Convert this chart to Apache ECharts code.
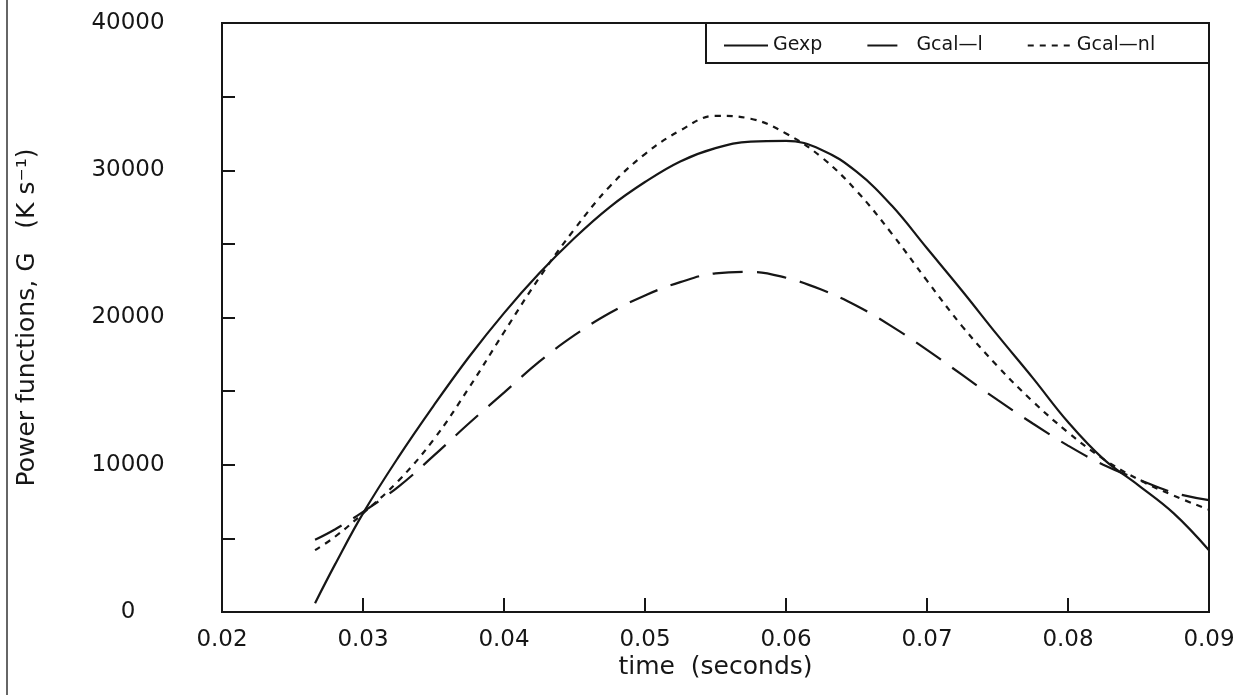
<!DOCTYPE html>
<html>
<head>
<meta charset="utf-8">
<script src="https://cdn.jsdelivr.net/npm/echarts@6/dist/echarts.min.js"></script>
<style>
html,body{margin:0;padding:0;background:#fff;}
#chart{width:1241px;height:695px;}
</style>
</head>
<body>
<div id="chart"></div>
<script>
// ---- data ----
const time = [0.0266, 0.028, 0.030, 0.0325, 0.035, 0.0375, 0.040, 0.0425, 0.045, 0.0475, 0.050, 0.0525, 0.055, 0.0575, 0.060, 0.0625, 0.065, 0.0675, 0.070, 0.0725, 0.075, 0.0775, 0.080, 0.0825, 0.085, 0.0875, 0.090];
const gExp   = [600, 3200, 6700, 10500, 14000, 17300, 20300, 23000, 25400, 27500, 29200, 30600, 31500, 31950, 32000, 31400, 29900, 27600, 24700, 21800, 18800, 15900, 12900, 10400, 8600, 6700, 4200];
const gCalL  = [4900, 5600, 6800, 8500, 10600, 12800, 14900, 17000, 18800, 20300, 21500, 22400, 23000, 23100, 22700, 21900, 20800, 19400, 17800, 16100, 14400, 12800, 11300, 10000, 9000, 8100, 7600];
const gCalNL = [4200, 5100, 6700, 8900, 11700, 15200, 19000, 22700, 26000, 28900, 31100, 32700, 33700, 33500, 32500, 30900, 28600, 25700, 22500, 19400, 16700, 14300, 12200, 10400, 9000, 7900, 6950];
const seriesNames = ['Gexp', 'Gcal\u2014l', 'Gcal\u2014nl'];
const xTickLabels = ['0.02', '0.03', '0.04', '0.05', '0.06', '0.07', '0.08', '0.09'];
const yTickLabels = ['0', '10000', '20000', '30000', '40000'];
const xTitle = 'time  (seconds)';
const yTitle = 'Power functions, G   (K s\u207B\u00B9)';

const pair = (ys) => time.map((t, i) => [t, ys[i]]);
const FONT = 'DejaVu Sans';
const INK = '#161616';

const chart = echarts.init(document.getElementById('chart'), null, {renderer: 'canvas'});
chart.setOption({
  backgroundColor: '#ffffff',
  animation: false,
  grid: {left: 222, right: 32, top: 23, bottom: 83, show: true, borderColor: INK, borderWidth: 2, backgroundColor: 'transparent'},
  legend: {
    left: 718, top: 31,
    itemWidth: 44, itemHeight: 14, itemGap: 44,
    textStyle: {fontFamily: FONT, fontSize: 19, color: INK},
    itemStyle: {opacity: 0, color: 'rgba(0,0,0,0)', borderWidth: 0},
    data: seriesNames
  },
  graphic: [
    {type: 'rect', shape: {x: 706, y: 23, width: 503, height: 40}, style: {fill: 'none', stroke: INK, lineWidth: 2}, silent: true},
    {type: 'line', shape: {x1: 7, y1: 0, x2: 7, y2: 695}, style: {stroke: '#333', lineWidth: 1.5}, silent: true}
  ],
  xAxis: {
    type: 'value', min: 0.02, max: 0.09, interval: 0.01,
    name: xTitle, nameLocation: 'middle', nameGap: 43, nameMoveOverlap: false,
    nameTextStyle: {fontFamily: FONT, fontSize: 25, color: INK},
    axisLine: {lineStyle: {color: INK, width: 2}},
    axisTick: {inside: true, length: 14, lineStyle: {color: INK, width: 2}},
    splitLine: {show: false},
    axisLabel: {fontFamily: FONT, fontSize: 23, color: INK, margin: 17,
      formatter: (v) => xTickLabels[Math.round((v - 0.02) / 0.01)] || ''}
  },
  yAxis: {
    type: 'value', min: 0, max: 40000, interval: 5000,
    name: yTitle, nameLocation: 'middle', nameGap: 182, nameMoveOverlap: false,
    nameTextStyle: {fontFamily: FONT, fontSize: 25, color: INK},
    axisLine: {show: true, lineStyle: {color: INK, width: 2}},
    axisTick: {inside: true, length: 13, lineStyle: {color: INK, width: 2}},
    splitLine: {show: false},
    axisLabel: {fontFamily: FONT, fontSize: 23, color: INK, margin: 94, align: 'center',
      formatter: (v) => (v % 10000 === 0 ? yTickLabels[v / 10000] : '')}
  },
  series: [
    {name: seriesNames[0], type: 'line', data: pair(gExp), smooth: 0.4, showSymbol: false, symbol: 'none',
      lineStyle: {color: INK, width: 2.2, type: 'solid'}, itemStyle: {color: INK}},
    {name: seriesNames[1], type: 'line', data: pair(gCalL), smooth: 0.4, showSymbol: false, symbol: 'none',
      lineStyle: {color: INK, width: 2.2, type: [30, 14]}, itemStyle: {color: INK}},
    {name: seriesNames[2], type: 'line', data: pair(gCalNL), smooth: 0.4, showSymbol: false, symbol: 'none',
      lineStyle: {color: INK, width: 2.2, type: [6, 6]}, itemStyle: {color: INK}}
  ]
});
</script>
</body>
</html>
